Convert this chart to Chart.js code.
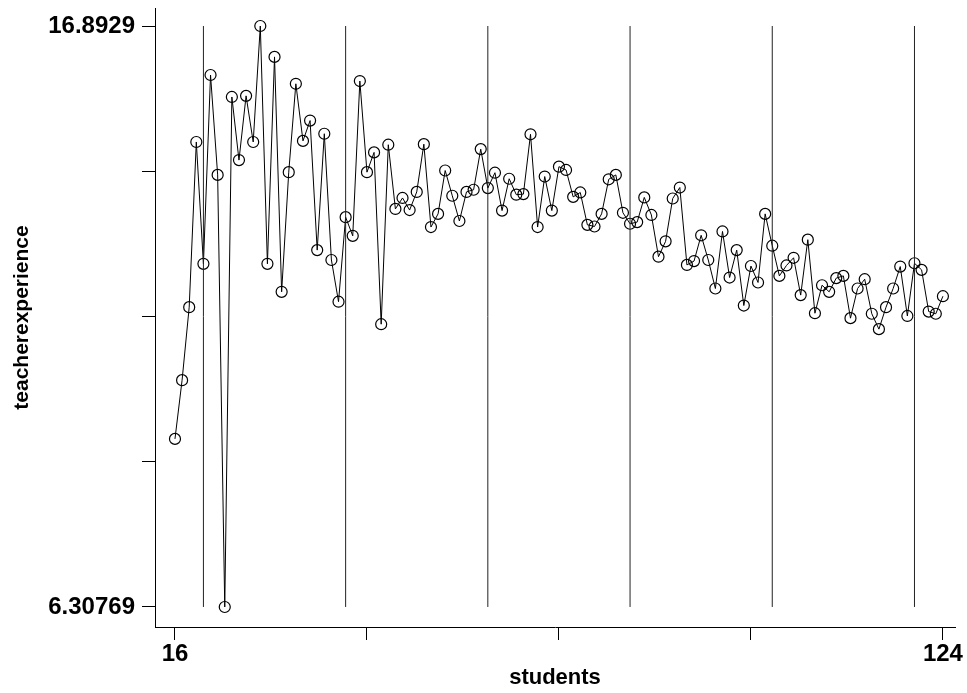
<!DOCTYPE html>
<html>
<head>
<meta charset="utf-8">
<script src="https://cdn.jsdelivr.net/npm/chart.js@4/dist/chart.umd.min.js"></script>
<style>
  html, body { margin: 0; padding: 0; background: #fff; }
  #wrap { width: 967px; height: 693px; }
</style>
</head>
<body>
<div id="wrap"><canvas id="chart" width="967" height="693"></canvas></div>
<script>
/* ── data ────────────────────────────────────────────── */
const students = [
  16, 17, 18, 19, 20, 21, 22, 23, 24, 25, 26, 27, 28, 29, 30, 31, 32, 33, 34, 35,
  36, 37, 38, 39, 40, 41, 42, 43, 44, 45, 46, 47, 48, 49, 50, 51, 52, 53, 54, 55,
  56, 57, 58, 59, 60, 61, 62, 63, 64, 65, 66, 67, 68, 69, 70, 71, 72, 73, 74, 75,
  76, 77, 78, 79, 80, 81, 82, 83, 84, 85, 86, 87, 88, 89, 90, 91, 92, 93, 94, 95,
  96, 97, 98, 99, 100, 101, 102, 103, 104, 105, 106, 107, 108, 109, 110, 111, 112,
  113, 114, 115, 116, 117, 118, 119, 120, 121, 122, 123, 124
];
const teacherExperience = [
  9.37, 10.44, 11.77, 14.78, 12.56, 16.00, 14.18, 6.30769, 15.60, 14.45,
  15.62, 14.78, 16.8929, 12.56, 16.33, 12.05, 14.23, 15.84, 14.80, 15.17,
  12.81, 14.93, 12.63, 11.87, 13.41, 13.07, 15.89, 14.23, 14.59, 11.46,
  14.73, 13.56, 13.76, 13.54, 13.87, 14.74, 13.23, 13.47, 14.26, 13.80,
  13.34, 13.87, 13.91, 14.65, 13.94, 14.22, 13.53, 14.11, 13.82, 13.83,
  14.92, 13.23, 14.15, 13.53, 14.33, 14.27, 13.78, 13.86, 13.27, 13.24,
  13.47, 14.10, 14.18, 13.49, 13.29, 13.32, 13.77, 13.45, 12.69, 12.97,
  13.75, 13.95, 12.54, 12.61, 13.08, 12.63, 12.11, 13.15, 12.31, 12.81,
  11.80, 12.52, 12.22, 13.47, 12.89, 12.34, 12.53, 12.67, 11.99, 13.00,
  11.66, 12.17, 12.05, 12.30, 12.34, 11.57, 12.11, 12.28, 11.65, 11.37,
  11.77, 12.11, 12.51, 11.61, 12.57, 12.45, 11.69, 11.65, 11.97
];
const refLines   = [20, 40, 60, 80, 100, 120];           // vertical markers
const refSpan    = [6.30769, 16.8929];                   // their bottom / top
const xTicks     = [16, 43, 70, 97, 124];
const xTickLabel = ['16', '', '', '', '124'];
const yTicks     = [6.30769, 8.95207, 11.60030, 14.24460, 16.8929];
const yTickLabel = ['6.30769', '', '', '', '16.8929'];

/* ── build datasets ──────────────────────────────────── */
const points = students.map((s, i) => ({ x: s, y: teacherExperience[i] }));
const markers = [];
refLines.forEach(v => {
  markers.push({ x: v, y: refSpan[0] }, { x: v, y: refSpan[1] }, { x: v, y: null });
});

const FONT = "'Liberation Sans', Arial, sans-serif";

new Chart(document.getElementById('chart'), {
  type: 'line',
  data: {
    datasets: [
      { data: markers, borderColor: '#222', borderWidth: 1, pointRadius: 0,
        spanGaps: false, fill: false, tension: 0 },
      { data: points, borderColor: '#000', borderWidth: 1, tension: 0, fill: false,
        pointRadius: 5.5, pointBorderWidth: 1.2, pointBorderColor: '#000',
        pointBackgroundColor: 'rgba(0,0,0,0)' }
    ]
  },
  options: {
    responsive: false, animation: false, devicePixelRatio: 1,
    layout: { padding: { left: 0, top: 8, right: 12, bottom: 0 } },
    plugins: { legend: { display: false }, tooltip: { enabled: false } },
    scales: {
      x: {
        type: 'linear', min: 13.19, max: 125.7,
        afterBuildTicks: s => { s.ticks = xTicks.map(v => ({ value: v })); },
        afterFit: s => { s.height = 66; s.paddingLeft = 0; s.paddingRight = 0; },
        ticks: {
          autoSkip: false, maxRotation: 0, padding: 0, color: '#000',
          font: { family: FONT, size: 24, weight: 'bold' },
          callback: (v) => xTickLabel[xTicks.indexOf(v)] ?? ''
        },
        grid: { drawOnChartArea: false, drawTicks: true, tickLength: 13, color: '#000' },
        border: { display: true, color: '#000', width: 1 },
        title: { display: true, text: 'students', color: '#000',
                 font: { family: FONT, size: 22, weight: 'bold' },
                 padding: { top: 0, bottom: 2 } }
      },
      y: {
        type: 'linear', min: 5.943, max: 17.221,
        afterBuildTicks: s => { s.ticks = yTicks.map(v => ({ value: v })); },
        afterFit: s => { s.width = 155; s.paddingTop = 0; s.paddingBottom = 0; },
        ticks: {
          autoSkip: false, padding: 7, color: '#000',
          font: { family: FONT, size: 24, weight: 'bold' },
          callback: (v) => yTickLabel[yTicks.indexOf(v)] ?? ''
        },
        grid: { drawOnChartArea: false, drawTicks: true, tickLength: 13, color: '#000' },
        border: { display: true, color: '#000', width: 1 },
        title: { display: true, text: 'teacherexperience', color: '#000',
                 font: { family: FONT, size: 21, weight: 'bold' },
                 padding: { top: 10, bottom: 0 } }
      }
    }
  }
});
</script>
</body>
</html>
